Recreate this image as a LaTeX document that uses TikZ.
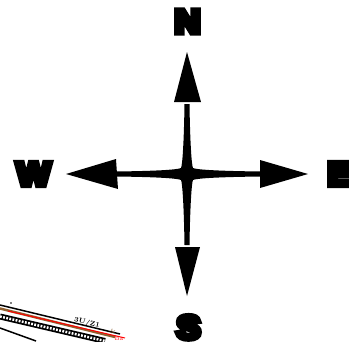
\documentclass[tikz,border=0pt]{standalone}
\usepackage{fontspec}
\usepackage{graphicx}
\newfontfamily\heavy{Liberation Sans}[UprightFont={* Bold}]
\newcommand\thicktext[1]{\scalebox{1.08}[1]{\special{pdf:literal direct 2 Tr 5.5 w 0 j 2 M}#1\special{pdf:literal direct 0 Tr 1 w 0 j 10 M}}}
\begin{document}
\begin{tikzpicture}[x=1pt,y=-1pt,
  letter/.style={inner sep=0pt,font=\heavy\fontsize{33}{33}\selectfont,text=black},
  head/.style={fill=black,draw=none}]
\useasboundingbox (0,0) rectangle (349,341);
\coordinate (c) at (187,174);
% star body
\fill[black] (262,171.5) .. controls (215,171) and (196,169.5) .. (193,168)
  .. controls (191.5,165) and (190,140) .. (189.5,104) -- (184.5,104)
  .. controls (184,140) and (182.5,165) .. (181,168)
  .. controls (178,169.5) and (160,171) .. (115,171.5) -- (115,176.5)
  .. controls (160,177) and (178,178.5) .. (181,180)
  .. controls (182.5,183) and (184,210) .. (184.5,245) -- (189.5,245)
  .. controls (190,210) and (191.5,183) .. (193,180)
  .. controls (196,178.5) and (215,177) .. (262,176.5) -- cycle;
% arrowheads
\fill[head] (187,52) -- (201,102) -- (174,102) -- cycle;
\fill[head] (187,296) -- (200,247) -- (175,247) -- cycle;
\fill[head] (66,174) -- (116,159) -- (118,189) -- cycle;
\fill[head] (308,174) -- (260,160) -- (260,188) -- cycle;
% letters
\node[letter] (n) at (187.5,21.5) {\thicktext{N}};
\node[letter] (w) at (33.5,174) {\thicktext{W}};
\node[letter,anchor=west] (e) at (327.5,174) {\thicktext{E}};
\node[letter,anchor=north] (s) at (188.5,315.5) {\thicktext{S}};
% artefact bottom left
\draw[black,line width=1.5] (0,305) -- (120,334);
\draw[brown!75!black,line width=2.5] (0,308.5) -- (115,337);
\draw[black,line width=6] (0,316.5) -- (105,341);
\draw[white,line width=2.5,dash pattern=on 1.8pt off 1.4pt] (0,316.5) -- (105,341);
\draw[red,line width=1] (8,311) -- (125,338);
\draw[black,line width=1.5] (0,328) -- (36,341);
\fill[black] (11,303) circle (0.9);
\node[font=\fontsize{7}{7}\selectfont\bfseries,rotate=-13,inner sep=0pt] (t) at (87,323) {3U/Z1};
\node[font=\fontsize{6}{6}\selectfont,text=brown!70!black,inner sep=0pt] (b) at (113,331) {\&};
\node[font=\fontsize{6}{6}\selectfont,text=red,inner sep=0pt] (r) at (119,338) {Ba};
\end{tikzpicture}
\end{document}
